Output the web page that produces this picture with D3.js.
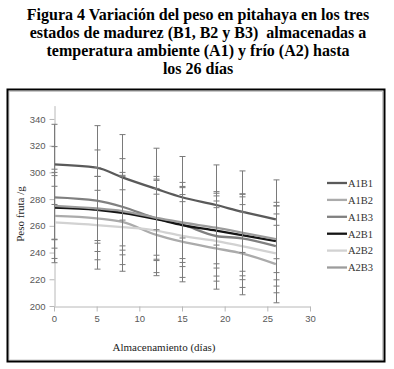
<!DOCTYPE html>
<html>
<head>
<meta charset="utf-8">
<script src="https://cdn.jsdelivr.net/npm/d3@7"></script>
<style>
html,body{margin:0;padding:0;background:#fff;}
svg{display:block;}
</style>
</head>
<body>
<svg id="chart" width="394" height="369"></svg>
<script>
// ---- data ----
const days = [0, 5, 8, 12, 15, 19, 22, 26];
const seriesNames = ["A1B1", "A1B2", "A1B3", "A2B1", "A2B2", "A2B3"];
const A1B1 = [306, 303.5, 296.3, 287.6, 281.4, 275.6, 270.6, 264.9];
const A1B2 = [267.4, 265.6, 263, 253.2, 248.1, 243.1, 239.4, 231.4];
const A1B3 = [281.3, 278.8, 274.3, 265.5, 261, 252.4, 250.7, 244.9];
const A2B1 = [273.6, 272, 269.8, 265, 260.6, 256.4, 253.1, 248.6];
const A2B2 = [262.6, 260.6, 259, 256.5, 252.4, 248.6, 244.9, 239.4];
const A2B3 = [275, 273, 271, 266, 262.5, 258.6, 255, 250];
const errA1B1 = [30, 31.5, 32, 30.5, 30.5, 30, 30.5, 29.5];
const errA1B2 = [35, 38, 37, 30.5, 30, 30.5, 31, 29];
const errA1B3 = [38, 38, 36, 31.5, 31.5, 30, 31, 30];
const errA2B1 = [24, 25, 28, 30, 28, 28, 30.5, 29];
const errA2B2 = [27, 26, 28, 31.5, 31, 30, 31, 29.5];
const errA2B3 = [25, 24, 26, 28, 27, 27, 29, 25];
const xTicks = [0, 5, 10, 15, 20, 25, 30];
const yTicks = [200, 220, 240, 260, 280, 300, 320, 340];
const titleLines = [
  "Figura 4 Variación del peso en pitahaya en los tres",
  "estados de madurez (B1, B2 y B3)  almacenadas a",
  "temperatura ambiente (A1) y frío (A2) hasta",
  "los 26 días"
];
const xTitle = "Almacenamiento (días)";
const yTitle = "Peso fruta /g";

const values = [A1B1, A1B2, A1B3, A2B1, A2B2, A2B3];
const errors = [errA1B1, errA1B2, errA1B3, errA2B1, errA2B2, errA2B3];
const colors = ["#5a5a5a", "#ababab", "#808080", "#141414", "#d2d2d2", "#9c9c9c"];

const SERIF = '"Liberation Serif", "Times New Roman", serif';
const SANS = '"Liberation Sans", Arial, sans-serif';

const series = seriesNames.map((n, i) => ({
  name: n, color: colors[i],
  pts: days.map((d, j) => ({x: d, y: values[i][j], e: errors[i][j]}))
}));

const svg = d3.select("#chart");

// title
const title = svg.append("text")
  .attr("x", 198).attr("text-anchor", "middle")
  .style("font-family", SERIF).style("font-weight", "bold").style("font-size", "16px")
  .attr("fill", "#000").style("white-space", "pre");
titleLines.forEach((t, i) => {
  title.append("tspan").attr("x", 198).attr("y", 20 + i * 18).text(t);
});

// frames
svg.append("rect").attr("x", 9).attr("y", 91.5).attr("width", 373.5).attr("height", 268.5)
  .attr("fill", "none").attr("stroke", "#c8c8c8").attr("stroke-width", 1);
svg.append("rect").attr("x", 7.5).attr("y", 89.5).attr("width", 377).attr("height", 272)
  .attr("fill", "none").attr("stroke", "#000").attr("stroke-width", 2);

const x = d3.scaleLinear().domain([0, 30]).range([54, 310]);
const y = d3.scaleLinear().domain([200, 350]).range([306, 105.6]);

// axes
const yAxis = svg.append("g").attr("transform", "translate(54.5,0)")
  .call(d3.axisLeft(y).tickValues(yTicks).tickSize(5).tickSizeOuter(0).tickPadding(4));
const xAxis = svg.append("g").attr("transform", "translate(0,306.5)")
  .call(d3.axisBottom(x).tickValues(xTicks).tickSize(5).tickSizeOuter(0).tickPadding(4));
[yAxis, xAxis].forEach(a => {
  a.attr("font-family", null).attr("font-size", null);
  a.selectAll("path.domain").attr("stroke", "#b8b8b8");
  a.selectAll(".tick line").attr("stroke", "#b8b8b8");
  a.selectAll(".tick text").attr("fill", "#595959")
    .style("font-family", SANS).style("font-size", "9.5px");
});

// lines
const line = d3.line().x(d => x(d.x)).y(d => y(d.y)).curve(d3.curveMonotoneX);
svg.append("g").selectAll("path").data(series).join("path")
  .attr("d", d => line(d.pts)).attr("fill", "none")
  .attr("stroke", d => d.color).attr("stroke-width", 2.3);

// error bars
const eb = svg.append("g").attr("stroke", "#7a7a7a").attr("stroke-width", 1).attr("fill", "none");
series.forEach(s => {
  s.pts.forEach(p => {
    const cx = Math.round(x(p.x)) + 0.5;
    eb.append("line").attr("x1", cx).attr("x2", cx).attr("y1", y(p.y - p.e)).attr("y2", y(p.y + p.e));
    [p.y - p.e, p.y + p.e].forEach(v => {
      eb.append("line").attr("x1", cx - 3).attr("x2", cx + 3).attr("y1", y(v)).attr("y2", y(v));
    });
  });
});

// axis titles
svg.append("text").attr("x", 164).attr("y", 351).attr("text-anchor", "middle")
  .style("font-family", SERIF).style("font-size", "11px").attr("fill", "#222").text(xTitle);
svg.append("text").attr("transform", "translate(24,214) rotate(-90)")
  .attr("text-anchor", "middle")
  .style("font-family", SERIF).style("font-size", "11px").attr("fill", "#222").text(yTitle);

// legend
const lg = svg.append("g");
series.forEach((s, i) => {
  const ly = 183 + i * 16.9;
  lg.append("line").attr("x1", 327).attr("x2", 347).attr("y1", ly).attr("y2", ly)
    .attr("stroke", s.color).attr("stroke-width", 2.3);
  lg.append("text").attr("x", 348).attr("y", ly + 3.8)
    .style("font-family", SERIF).style("font-size", "10.5px").attr("fill", "#333").text(s.name);
});
</script>
</body>
</html>
